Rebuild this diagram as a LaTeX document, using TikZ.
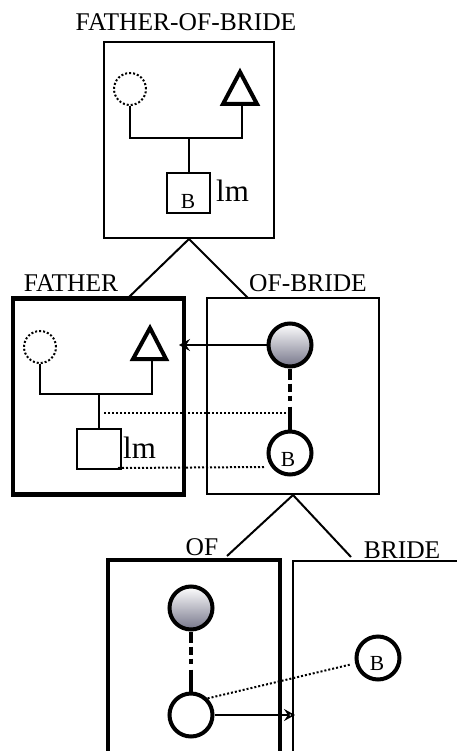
\documentclass[tikz,border=0pt]{standalone}
\usepackage{fontspec}
\setmainfont{Liberation Serif}
\usetikzlibrary{arrows.meta,calc,positioning}

\begin{document}
\begin{tikzpicture}[x=1pt,y=-1pt,>=Stealth,
  box/.style={draw,line width=2pt,minimum width=#1,minimum height=196pt,inner sep=0pt},
  headbox/.style={draw,line width=4.5pt,minimum width=#1,minimum height=196pt,inner sep=0pt},
  lbl/.style={font=\fontsize{25.5}{25.5}\selectfont,inner sep=0pt},
  unk/.style={circle,draw,dotted,line width=2pt,minimum size=32pt,inner sep=0pt},
  ind/.style={circle,draw,line width=4pt,minimum size=43pt,inner sep=0pt,fill=white},
  refind/.style={ind,top color=white,bottom color={rgb,255:red,118;green,118;blue,138}},
  sq/.style={draw,line width=2pt,minimum width=43pt,minimum height=40pt,inner sep=0pt},
  tag/.style={font=\fontsize{21.5}{21.5}\selectfont,inner sep=0pt},
  lmtag/.style={font=\fontsize{31}{31}\selectfont,inner sep=0pt,anchor=base west},
  ped/.style={line width=2pt},
  tri/.style={line width=4pt,line join=miter},
  dots/.style={dotted,line width=2pt},
  chain/.style={line width=4pt,dash pattern=on 11pt off 4pt on 8pt off 4pt on 5pt off 6pt on 60pt},
  link/.style={line width=1.6pt,-{Stealth[open,length=11pt,width=12pt,inset=4pt]}}]
  \useasboundingbox (0,0) rectangle (457,751);
  \clip (0,0) rectangle (457,751);

  % FATHER-OF-BRIDE
  \node[lbl] (fobL) at (186,22) {FATHER-OF-BRIDE};
  \node[box=170pt] (fob) at (189,140) {};
  \node[unk] (fobM) at (130,89) {};
  \draw[tri] (240,72) -- (257,104) -- (223,104) -- cycle;
  \coordinate (fobT) at (242,104);
  \draw[ped] (fobM.south) -- (fobM.south |- 0,138) -- (fobT |- 0,138) -- (fobT);
  \node[sq] (fobC) at (188.5,193) {};
  \draw[ped] (fobC.north) -- (fobC.north |- 0,138);
  \node[tag] (fobB) at (188,201) {B};
  \node[lmtag] (fobLm) at (216,202) {lm};

  \coordinate (fobSl) at (128,298);
  \coordinate (fobSr) at (248,298);
  \draw[ped] (fobSl) -- (fob.south) -- (fobSr);

  % FATHER
  \node[lbl] (faL) at (71,283) {FATHER};
  \node[headbox=171pt] (fa) at (98.5,396.5) {};
  \node[unk] (faM) at (40,347) {};
  \draw[tri] (150,328) -- (166,359) -- (133,359) -- cycle;
  \coordinate (faT) at (152,359);
  \draw[ped] (faM.south) -- (faM.south |- 0,394) -- (faT |- 0,394) -- (faT);
  \node[sq,minimum width=44pt] (faC) at (99,449) {};
  \draw[ped] (faC.north) -- (faC.north |- 0,394);
  \node[lmtag] (faLm) at (123,458) {lm};

  % OF-BRIDE
  \node[lbl] (obL) at (308,283) {OF-BRIDE};
  \node[box=172pt] (ob) at (293,396) {};
  \node[refind] (obR) at (290,345) {};
  \node[ind] (obB) at (290,453) {};
  \node[tag] at ($(obB)+(-2,6)$) {B};
  \coordinate (faIn) at (179,345);
  \draw[chain] (obR.south) -- (obB.north);
  \draw[link] (obR.west) -- (faIn);
  \draw[dots] (faC.north |- 0,413) ++(5,0) -- (obR.south |- 0,413);
  \draw[dots] (faC.south east) ++(-4,-2) -- ($(obB.west)+(-2,14)$);

  \coordinate (obSl) at (227,556);
  \coordinate (obSr) at (351,557);
  \draw[ped] (obSl) -- (ob.south) -- (obSr);

  % OF
  \node[lbl] (ofL) at (202,547) {OF};
  \node[headbox=172pt,minimum height=260pt] (of) at (194,690) {};
  \node[refind] (ofR) at (191,608) {};
  \node[ind] (ofC) at (191,715) {};
  \draw[chain] (ofR.south) -- (ofC.north);

  % BRIDE
  \node[lbl] (brL) at (402,550) {BRIDE};
  \node[box=180pt,minimum height=260pt] (br) at (383,691) {};
  \node[ind] (brB) at (378,658) {};
  \node[tag] at ($(brB)+(-1,5)$) {B};
  \coordinate (brIn) at (295,715);
  \draw[link] (ofC.east) -- (brIn);
  \draw[dots,shorten >=5pt] (ofC.north east) -- (brB);
\end{tikzpicture}
\end{document}
